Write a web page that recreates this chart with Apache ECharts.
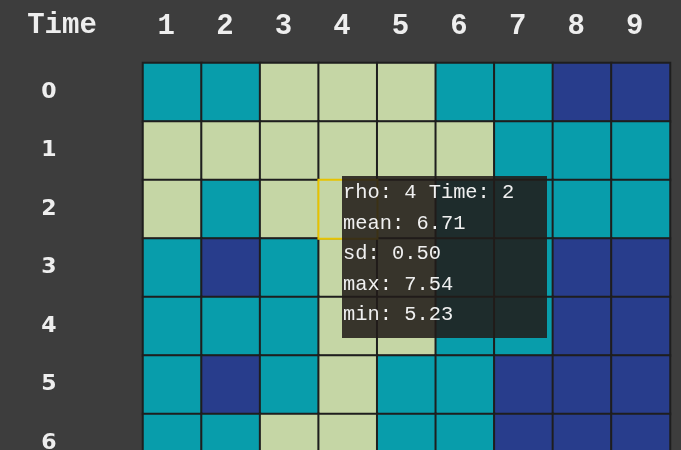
<!DOCTYPE html>
<html>
<head>
<meta charset="utf-8">
<script src="https://cdn.jsdelivr.net/npm/echarts@6/dist/echarts.min.js"></script>
<style>
html,body{margin:0;padding:0;background:#3d3d3d;overflow:hidden;}
#chart{width:681px;height:480px;}
</style>
</head>
<body>
<div id="chart"></div>
<script>
// rho values along the top axis
var rhoLabels = ['1','2','3','4','5','6','7','8','9'];
// Time values down the side axis
var timeLabels = ['0','1','2','3','4','5','6'];
// colour class of each cell: 'L' light, 'T' teal, 'B' dark blue
var time0 = ['T','T','L','L','L','T','T','B','B'];
var time1 = ['L','L','L','L','L','L','T','T','T'];
var time2 = ['L','T','L','L','L','T','T','T','T'];
var time3 = ['T','B','T','L','L','T','T','B','B'];
var time4 = ['T','T','T','L','L','T','T','B','B'];
var time5 = ['T','B','T','L','T','T','B','B','B'];
var time6 = ['T','T','L','L','T','T','B','B','B'];
var classCodes = ['B','T','L'];
// statistics shown in the tooltip for the hovered cell
var hoverRho = '4';
var hoverTime = '2';
var statNames = ['mean','sd','max','min'];
var statValues = [6.71, 0.50, 7.54, 5.23];

var classColors = ['#283d8c', '#089dab', '#c5d6a5'];
var rows = [time0,time1,time2,time3,time4,time5,time6];
var data = [];
rows.forEach(function(r, yi){
  r.forEach(function(c, xi){
    var code = classCodes.indexOf(c);
    data.push({value: [xi, yi, code], emphasis: {itemStyle: {color: classColors[code]}}});
  });
});
var hoverIndex = timeLabels.indexOf(hoverTime)*rhoLabels.length + rhoLabels.indexOf(hoverRho);

var chart = echarts.init(document.getElementById('chart'));
chart.setOption({
  backgroundColor: '#3d3d3d',
  animation: false,
  grid: {left: 143, right: 11, top: 63, bottom: 7.5},
  xAxis: {
    type: 'category', data: rhoLabels, position: 'top',
    axisLine: {show: false}, axisTick: {show: false}, splitLine: {show: false},
    axisLabel: {color: '#eeeeee', fontFamily: 'Liberation Mono', fontWeight: 'bold', fontSize: 29, margin: 22, padding: [0, 12, 0, 0]}
  },
  yAxis: {
    type: 'category', data: timeLabels, inverse: true,
    axisLine: {show: false}, axisTick: {show: false}, splitLine: {show: false},
    name: 'Time', nameLocation: 'start', nameGap: 37,
    nameTextStyle: {color: '#eeeeee', fontFamily: 'Liberation Mono', fontWeight: 'bold', fontSize: 29, align: 'center', verticalAlign: 'middle', padding: [0, 162, 0, 0]},
    axisLabel: {color: '#eeeeee', fontFamily: 'DejaVu Sans', fontWeight: 'bold', fontSize: 22, margin: 94, align: 'center', verticalAlign: 'middle', lineHeight: 22, padding: [6, 0, 0, 0]}
  },
  visualMap: {
    type: 'piecewise', show: false, dimension: 2,
    pieces: [
      {value: 0, color: classColors[0]},
      {value: 1, color: classColors[1]},
      {value: 2, color: classColors[2]}
    ]
  },
  tooltip: {
    trigger: 'item', alwaysShowContent: true, transitionDuration: 0, showDelay: 0,
    position: [342, 176],
    backgroundColor: 'rgba(33,28,25,0.87)', borderWidth: 0, padding: [2, 2, 7, 1],
    textStyle: {color: '#f0f0f0', fontFamily: 'Liberation Mono', fontSize: 20.4},
    extraCssText: 'width:202px;line-height:30.5px;border-radius:0;box-shadow:none;',
    formatter: function(p){
      var rho = rhoLabels[p.value[0]], t = timeLabels[p.value[1]];
      var s = 'rho: ' + rho + ' Time: ' + t;
      if (rho === hoverRho && t === hoverTime) {
        statNames.forEach(function(n, i){ s += '<br/>' + n + ': ' + statValues[i].toFixed(2); });
      }
      return s;
    }
  },
  series: [{
    type: 'heatmap', data: data,
    itemStyle: {borderColor: '#1e1e1e', borderWidth: 2},
    emphasis: {itemStyle: {borderColor: '#e8c300', borderWidth: 2}}
  }]
});
chart.dispatchAction({type: 'highlight', seriesIndex: 0, dataIndex: hoverIndex});
chart.dispatchAction({type: 'showTip', seriesIndex: 0, dataIndex: hoverIndex});
</script>
</body>
</html>
